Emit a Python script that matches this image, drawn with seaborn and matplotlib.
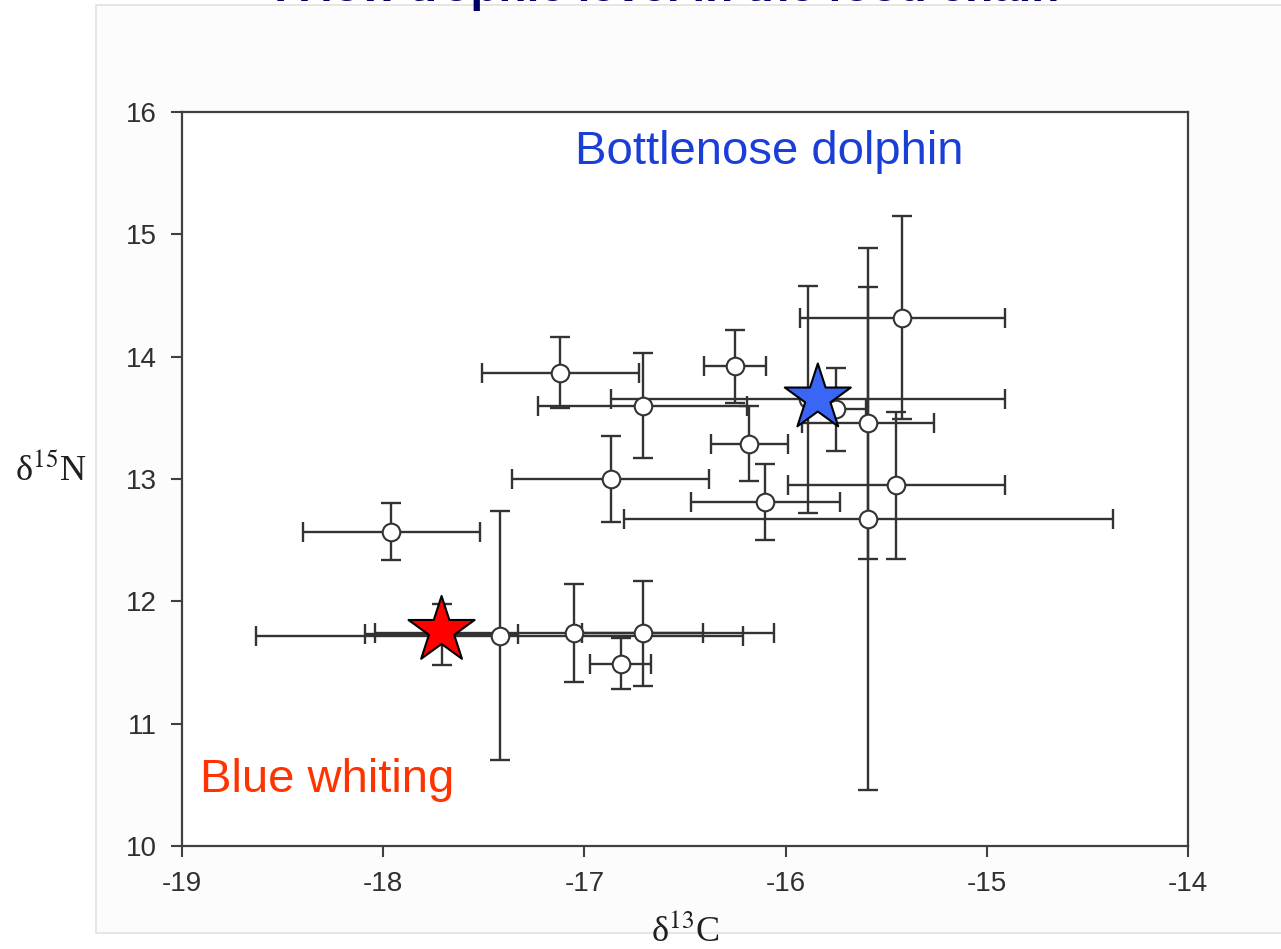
import matplotlib
matplotlib.use('Agg')
import matplotlib.pyplot as plt
import matplotlib.patches as patches
import seaborn as sns
import pandas as pd

sns.set_theme(style='white')
plt.rcParams['font.family'] = ['Liberation Sans', 'DejaVu Sans']
plt.rcParams['mathtext.fontset'] = 'stix'

#%% data
c13 = [-17.96, -17.12, -16.71, -16.25, -16.18, -16.87, -16.10, -15.89, -15.75,
       -15.59, -15.42, -15.45, -15.59, -17.42, -17.71, -17.05, -16.71, -16.82]
n15 = [12.57, 13.87, 13.60, 13.92, 13.29, 13.00, 12.81, 13.65, 13.57,
       13.46, 14.32, 12.95, 12.67, 11.72, 11.73, 11.74, 11.74, 11.49]
c13_sd = [0.44, 0.39, 0.52, 0.155, 0.19, 0.49, 0.37, 0.98, 0.15,
          0.33, 0.51, 0.54, 1.215, 1.21, 0.38, 0.99, 0.30, 0.15]
n15_sd = [0.23, 0.29, 0.43, 0.30, 0.31, 0.35, 0.31, 0.93, 0.34,
          1.11, 0.83, 0.60, 2.215, 1.02, 0.25, 0.40, 0.43, 0.21]

star_names = ['Bottlenose dolphin', 'Blue whiting']
star_c13 = [-15.84, -17.71]
star_n15 = [13.66, 11.76]
star_colors = ['#3a66f5', '#ff0000']

x_ticks = [-19, -18, -17, -16, -15, -14]
y_ticks = [10, 11, 12, 13, 14, 15, 16]

df = pd.DataFrame({'c13': c13, 'n15': n15})
stars = pd.DataFrame({'name': star_names, 'c13': star_c13, 'n15': star_n15})

#%% figure
fig = plt.figure(figsize=(12.81, 9.49), dpi=100)
fig.patch.set_facecolor('white')
panel = patches.Rectangle((0.075, 0.017), 1.0, 0.978, transform=fig.transFigure,
                          facecolor='#fcfcfc', edgecolor='#e2e2e2', lw=1.2, zorder=-5)
fig.patches.append(panel)

# half hidden slide title
fig.text(0.521, 1 - 1 / 949, 'A low trophic level in the food chain', ha='center',
         va='baseline', fontsize=33, fontweight='bold', color='#000066')

ax = fig.add_axes([0.1421, 0.1085, 0.7853, 0.7735])
ax.set_facecolor('white')

ax.errorbar(df.c13, df.n15, xerr=c13_sd, yerr=n15_sd, fmt='none',
            ecolor='#333333', elinewidth=1.7, capsize=7, capthick=1.7, zorder=2)
sns.scatterplot(data=df, x='c13', y='n15', marker='o', s=160, color='white',
                edgecolor='#333333', linewidth=1.5, zorder=3, ax=ax)
sns.scatterplot(data=stars, x='c13', y='n15', hue='name', palette=star_colors,
                marker='*', s=2500, edgecolor='black', linewidth=1.5,
                legend=False, zorder=4, ax=ax)

ax.text(-16.08, 15.67, 'Bottlenose dolphin', color='#1a3fd6', fontsize=34,
        ha='center', va='center')
ax.text(-18.28, 10.54, 'Blue whiting', color='#ff3300', fontsize=34,
        ha='center', va='center')

ax.set_xlim(-19, -14)
ax.set_ylim(10, 16)
ax.set_xticks(x_ticks)
ax.set_yticks(y_ticks)
ax.set_xticklabels([str(t) for t in x_ticks])
ax.set_yticklabels([str(t) for t in y_ticks])
ax.tick_params(axis='both', direction='out', length=8, width=1.5, color='#404040',
               labelsize=20, labelcolor='#303030', pad=10, bottom=True, left=True)
for s in ax.spines.values():
    s.set_color('#404040')
    s.set_linewidth(1.6)

ax.set_xlabel('δ$^{13}$C', fontsize=26, family='Liberation Serif', color='#202020')
ax.set_ylabel('δ$^{15}$N', fontsize=26, family='Liberation Serif', color='#202020',
              rotation=0, ha='center', va='center')
ax.xaxis.set_label_coords(0.5, -0.092)
ax.yaxis.set_label_coords(-0.13, 0.512)

fig.savefig('out.png', dpi=100)
